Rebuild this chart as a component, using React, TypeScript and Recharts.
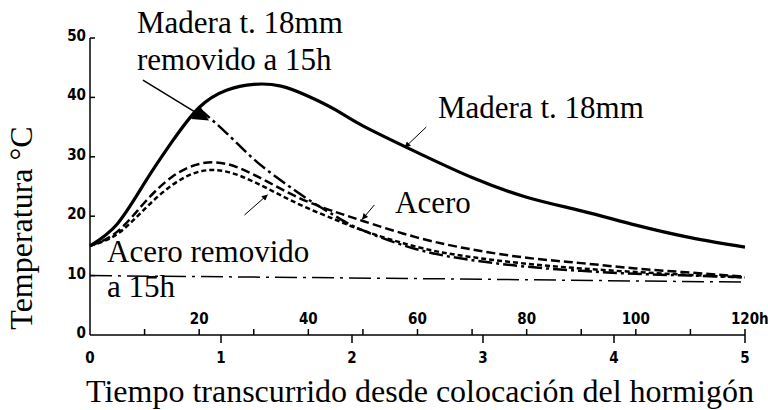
import React from 'react';
import { LineChart, Line, XAxis, YAxis, ReferenceLine } from 'recharts';

// Hours since concrete placement
const hours = [0, 5, 10, 15, 20, 25, 30, 35, 40, 45, 50, 60, 70, 80, 90, 100, 110, 120];
// Temperatures (°C)
const madera = [15, 18.7, 25.6, 32.5, 38.3, 41.2, 42.2, 41.9, 40.2, 37.9, 35.2, 30.7, 26.5, 23.2, 20.9, 18.5, 16.4, 14.8];
const maderaRemovido = [null, null, null, null, 38.1, 34, 29.6, 26, 22.8, 20, 17.6, 14.4, 12.6, 11.5, 10.8, 10.3, 10, 9.7];
const acero = [15, 17.4, 22.3, 26.6, 28.8, 28.8, 27, 24.6, 22.4, 20.7, 19.2, 16.4, 14.4, 13, 12.1, 11.2, 10.5, 9.8];
const aceroRemovido = [15, 17, 21.2, 25.2, 27.5, 27.5, 25.8, 23.5, 21.3, 19.4, 17.6, 14.8, 13.1, 12, 11.2, 10.6, 10.1, 9.7];
const ambiente = [10, null, null, null, null, null, null, null, null, null, null, 9.5, null, null, null, null, null, 8.9];

// Axis ticks
const hourTicks = [10, 20, 30, 40, 50, 60, 70, 80, 90, 100, 110, 120];
const hourLabels = [20, 40, 60, 80, 100, 120];
const dayTicks = [0, 1, 2, 3, 4, 5];
const yTicks = [0, 10, 20, 30, 40, 50];

// Texts
const yTitle = 'Temperatura °C';
const xTitle = 'Tiempo transcurrido desde colocación del hormigón';
const lblMaderaRem1 = 'Madera t. 18mm';
const lblMaderaRem2 = 'removido a 15h';
const lblMadera = 'Madera t. 18mm';
const lblAcero = 'Acero';
const lblAceroRem1 = 'Acero removido';
const lblAceroRem2 = 'a 15h';

const data = hours.map((h, i) => ({
  h,
  madera: madera[i],
  maderaRemovido: maderaRemovido[i],
  acero: acero[i],
  aceroRemovido: aceroRemovido[i],
  ambiente: ambiente[i],
}));

const xTickValues = Array.from(new Set([...hourTicks, ...dayTicks.map((d) => d * 24)])).sort((a, b) => a - b);

const tickFont = "'DejaVu Sans Condensed', 'Liberation Sans Narrow', 'DejaVu Sans', sans-serif";
const serif = "'Liberation Serif', 'Times New Roman', serif";
const tickStyle = { fontFamily: tickFont, fontWeight: 'bold' as const, fontSize: 15 };
const serifStyle = { fontFamily: serif, fontSize: 31 };
const titleStyle = { fontFamily: serif, fontSize: 32 };

const XTick = (props: any) => {
  const { x, y, payload } = props;
  const v = payload.value as number;
  const parts: any[] = [];
  if (v % 10 === 0 && v > 0) {
    parts.push(<line key="hl" x1={x} x2={x} y1={y - 6} y2={y} stroke="#000" strokeWidth={1.5} />);
  }
  if (hourLabels.includes(v)) {
    parts.push(
      <text key="ht" x={x} y={y - 11} textAnchor="middle" style={tickStyle} fill="#000">
        {v}
      </text>
    );
    if (v === 120) {
      parts.push(
        <text key="hh" x={x + 14} y={y - 11} textAnchor="start" style={tickStyle} fill="#000">
          h
        </text>
      );
    }
  }
  if (v % 24 === 0) {
    if (v > 0) parts.push(<line key="dl" x1={x} x2={x} y1={y} y2={y + 8} stroke="#000" strokeWidth={1.5} />);
    parts.push(
      <text key="dt" x={x} y={y + 28} textAnchor="middle" style={tickStyle} fill="#000">
        {v / 24}
      </text>
    );
  }
  return <g>{parts}</g>;
};

const YTick = (props: any) => {
  const { x, y, payload } = props;
  const v = payload.value as number;
  return (
    <g>
      {v > 0 && <line x1={x} x2={x + 5} y1={y} y2={y} stroke="#000" strokeWidth={1.5} />}
      <text x={x - 4} y={y + 3} textAnchor="end" style={tickStyle} fill="#000">
        {v}
      </text>
    </g>
  );
};

export default function App() {
  return (
    <div style={{ position: 'absolute', left: 0, top: 0, width: 768, height: 410, background: '#fff' }}>
      <svg width={0} height={0} style={{ position: 'absolute' }}>
        <defs>
          <marker id="bigHead" viewBox="0 0 10 10" refX="8" refY="5" markerWidth="22" markerHeight="16" markerUnits="userSpaceOnUse" orient="auto">
            <path d="M0,0 L10,5 L0,10 z" fill="#000" />
          </marker>
          <marker id="smallHead" viewBox="0 0 10 10" refX="9" refY="5" markerWidth="8" markerHeight="6" markerUnits="userSpaceOnUse" orient="auto">
            <path d="M0,0 L10,5 L0,10 z" fill="#000" />
          </marker>
        </defs>
      </svg>
      <LineChart width={768} height={410} data={data} margin={{ top: 38, right: 23, left: 0, bottom: 0 }}>
        <XAxis
          dataKey="h"
          type="number"
          domain={[0, 120]}
          ticks={xTickValues}
          interval={0}
          tickLine={false}
          tickSize={0}
          tickMargin={0}
          height={75}
          tick={<XTick />}
          axisLine={{ stroke: '#000', strokeWidth: 1.5 }}
        />
        <YAxis
          type="number"
          domain={[0, 50]}
          ticks={yTicks}
          interval={0}
          tickLine={false}
          tickSize={0}
          tickMargin={0}
          width={90}
          tick={<YTick />}
          axisLine={{ stroke: '#000', strokeWidth: 1.5 }}
        />
        <Line dataKey="ambiente" type="linear" stroke="#000" strokeWidth={1.5} strokeDasharray="22 6 3 6" dot={false} connectNulls isAnimationActive={false} />
        <Line dataKey="aceroRemovido" type="natural" stroke="#000" strokeWidth={2.5} strokeDasharray="5 3" dot={false} isAnimationActive={false} />
        <Line dataKey="acero" type="natural" stroke="#000" strokeWidth={2.5} strokeDasharray="9 4" dot={false} isAnimationActive={false} />
        <Line dataKey="maderaRemovido" type="natural" stroke="#000" strokeWidth={2.5} strokeDasharray="14 4 3 4" dot={false} isAnimationActive={false} />
        <Line dataKey="madera" type="natural" stroke="#000" strokeWidth={3.2} dot={false} isAnimationActive={false} />
        <ReferenceLine segment={[{ x: 9.7, y: 42.9 }, { x: 21.3, y: 36.4 }]} stroke="#000" strokeWidth={1.5} markerEnd="url(#bigHead)" />
        <ReferenceLine segment={[{ x: 61.6, y: 35.0 }, { x: 57.7, y: 31.6 }]} stroke="#000" strokeWidth={1} markerEnd="url(#smallHead)" />
        <ReferenceLine segment={[{ x: 52.1, y: 21.9 }, { x: 49.9, y: 19.5 }]} stroke="#000" strokeWidth={1} markerEnd="url(#smallHead)" />
        <ReferenceLine segment={[{ x: 28.3, y: 20.2 }, { x: 32.5, y: 23.6 }]} stroke="#000" strokeWidth={1} markerEnd="url(#smallHead)" />
      </LineChart>
      <svg width={768} height={410} style={{ position: 'absolute', left: 0, top: 0, pointerEvents: 'none' }}>
        <text x={137} y={33} style={serifStyle} fill="#000">{lblMaderaRem1}</text>
        <text x={137} y={70} style={serifStyle} fill="#000">{lblMaderaRem2}</text>
        <text x={438} y={118} style={serifStyle} fill="#000">{lblMadera}</text>
        <text x={395} y={213} style={serifStyle} fill="#000">{lblAcero}</text>
        <text x={107} y={262} style={serifStyle} fill="#000">{lblAceroRem1}</text>
        <text x={107} y={297} style={serifStyle} fill="#000">{lblAceroRem2}</text>
        <text x={32} y={228} textAnchor="middle" transform="rotate(-90 32 228)" style={titleStyle} fill="#000">{yTitle}</text>
        <text x={420} y={402} textAnchor="middle" style={titleStyle} fill="#000">{xTitle}</text>
      </svg>
    </div>
  );
}
